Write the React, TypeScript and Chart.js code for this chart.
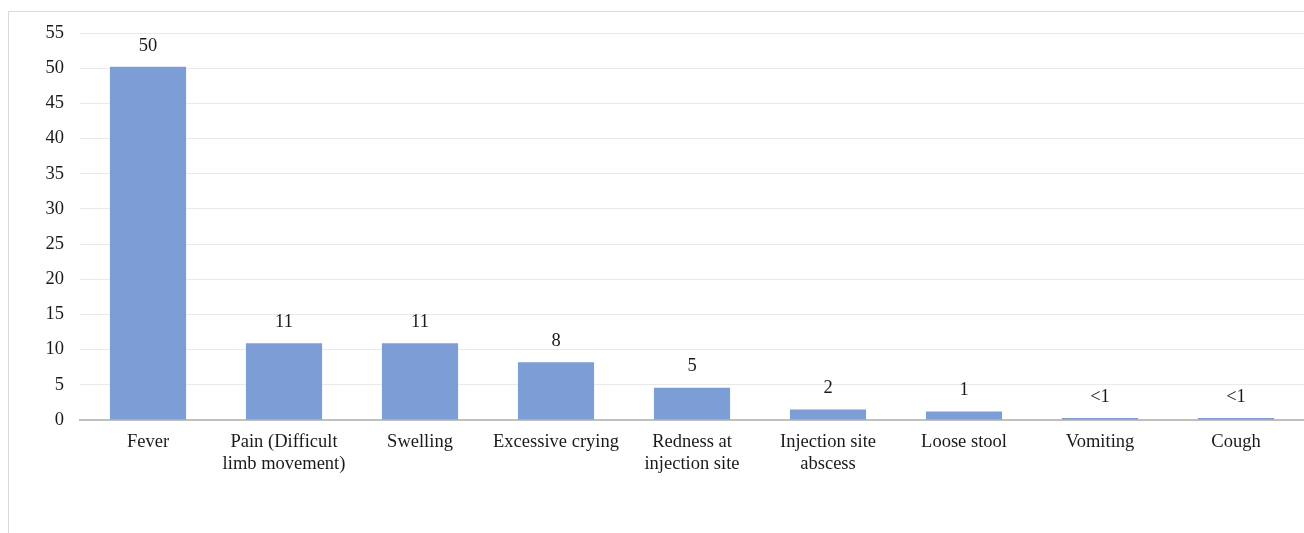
import React, { useEffect, useRef } from "react";
import { Chart, registerables } from "chart.js";

Chart.register(...registerables);

const categories: (string | string[])[] = [
  "Fever",
  ["Pain (Difficult", "limb movement)"],
  "Swelling",
  "Excessive crying",
  ["Redness at", "injection site"],
  ["Injection site", "abscess"],
  "Loose stool",
  "Vomiting",
  "Cough",
];
const values: number[] = [50.2, 10.9, 10.9, 8.2, 4.6, 1.5, 1.2, 0.3, 0.3];
const valueLabels: string[] = ["50", "11", "11", "8", "5", "2", "1", "<1", "<1"];
const yTicks: number[] = [0, 5, 10, 15, 20, 25, 30, 35, 40, 45, 50, 55];

const FONT = "'Liberation Serif', 'Times New Roman', serif";
const FS = 18.5;

const labelPlugin = {
  id: "valueLabels",
  afterDatasetsDraw(chart: any) {
    const ctx = chart.ctx;
    const meta = chart.getDatasetMeta(0);
    ctx.save();
    ctx.font = `${FS}px ${FONT}`;
    ctx.fillStyle = "#1a1a1a";
    ctx.textAlign = "center";
    ctx.textBaseline = "middle";
    meta.data.forEach((el: any, i: number) => {
      ctx.fillText(valueLabels[i], el.x, el.y - 21);
    });
    ctx.restore();
  },
};

export default function App() {
  const ref = useRef<HTMLCanvasElement | null>(null);
  useEffect(() => {
    if (!ref.current) return;
    const chart = new Chart(ref.current, {
      type: "bar",
      data: {
        labels: categories,
        datasets: [
          {
            data: values,
            backgroundColor: "#7c9dd6",
            borderWidth: 0,
            categoryPercentage: 1,
            barPercentage: 0.56,
          },
        ],
      },
      options: {
        responsive: false,
        animation: false,
        devicePixelRatio: 1,
        layout: { padding: { top: 33, right: 0, bottom: 0, left: 0 } },
        plugins: { legend: { display: false }, tooltip: { enabled: false } },
        scales: {
          x: {
            grid: { display: false, drawTicks: false },
            border: { display: true, color: "#bfbfbf", width: 2 },
            ticks: {
              font: { family: FONT, size: FS, lineHeight: 22 / FS },
              color: "#1a1a1a",
              padding: 11,
              maxRotation: 0,
              autoSkip: false,
            },
            afterFit(scale: any) {
              scale.height = 113;
            },
          },
          y: {
            min: 0,
            max: 55,
            afterBuildTicks(scale: any) {
              scale.ticks = yTicks.map((v) => ({ value: v }));
            },
            grid: {
              drawTicks: false,
              color: (c: any) => (c.tick && c.tick.value === 0 ? "rgba(0,0,0,0)" : "#e9e9e9"),
              lineWidth: 1,
            },
            border: { display: false },
            ticks: {
              font: { family: FONT, size: FS },
              color: "#1a1a1a",
              padding: 16,
            },
            afterFit(scale: any) {
              scale.width = 80;
            },
          },
        },
      },
      plugins: [labelPlugin],
    });
    return () => chart.destroy();
  }, []);

  return (
    <div style={{ position: "fixed", left: 0, top: 0, width: 1304, height: 533, overflow: "hidden", background: "#fff" }}>
      <div
        style={{
          position: "absolute",
          left: 8,
          top: 11,
          width: 1400,
          height: 700,
          border: "1px solid #d9d9d9",
        }}
      />
      <canvas ref={ref} width={1304} height={533} style={{ position: "absolute", left: 0, top: 0, width: 1304, height: 533 }} />
    </div>
  );
}
